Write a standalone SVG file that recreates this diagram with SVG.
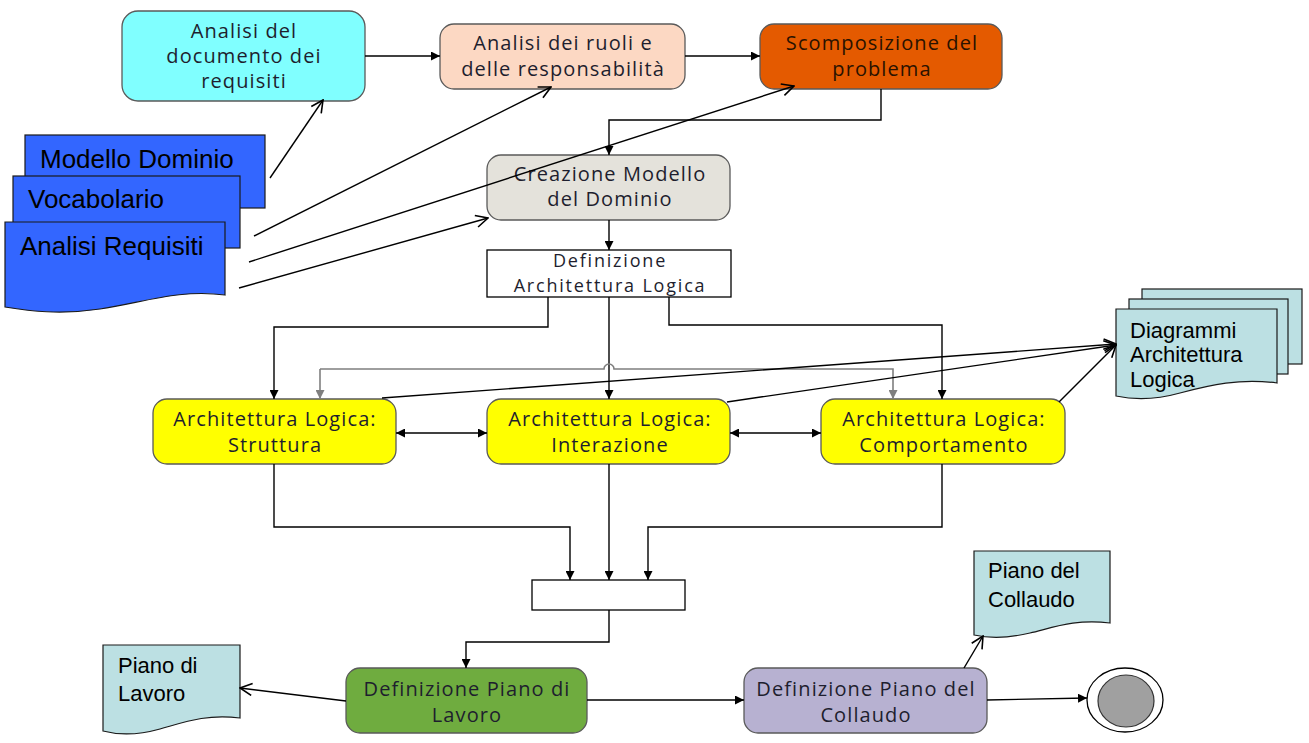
<svg xmlns="http://www.w3.org/2000/svg" width="1309" height="743" viewBox="0 0 1309 743">
<defs>
<style>
.node{stroke:#5a5a5a;stroke-width:1.3}
.nt{font-family:"Open Sans","Noto Sans",sans-serif;font-size:20px;letter-spacing:1.1px;fill:#1e1e2e;text-anchor:middle}
.ns{font-size:18px;letter-spacing:1.8px}
.dt{font-family:"Liberation Sans",Arial,sans-serif;fill:#000}
.doc{fill:#3366ff;stroke:#1a1a1a;stroke-width:1.2}
.doc2{fill:#bce0e3;stroke:#1a1a1a;stroke-width:1.2}
.c{fill:none;stroke:#000;stroke-width:1.4}
.g{fill:none;stroke:#7f7f7f;stroke-width:1.6}
</style>
<marker id="af" viewBox="0 0 10 10" refX="10" refY="5" markerWidth="9" markerHeight="9" markerUnits="userSpaceOnUse" orient="auto-start-reverse"><path d="M0,0 L10,5 L0,10 Z" fill="#000"/></marker>
<marker id="ag" viewBox="0 0 10 10" refX="10" refY="5" markerWidth="9" markerHeight="9" markerUnits="userSpaceOnUse" orient="auto"><path d="M0,0 L10,5 L0,10 Z" fill="#7f7f7f"/></marker>
<marker id="ao" viewBox="0 0 14 14" refX="13" refY="7" markerWidth="14" markerHeight="14" markerUnits="userSpaceOnUse" orient="auto"><path d="M1,1 L13,7 L1,13" fill="none" stroke="#000" stroke-width="1.6"/></marker>
</defs>
<rect width="1309" height="743" fill="#fff"/>

<g id="n-analisi-doc">
<rect class="node" x="122" y="11" width="243" height="90" rx="16" fill="#80ffff"/>
<text class="nt" x="244" y="38">Analisi del</text>
<text class="nt" x="244" y="63">documento dei</text>
<text class="nt" x="244" y="88">requisiti</text>
</g>
<g id="n-analisi-ruoli">
<rect class="node" x="440" y="24" width="245" height="65" rx="14" fill="#fcd8c3"/>
<text class="nt" x="563" y="50">Analisi dei ruoli e</text>
<text class="nt" x="563" y="76">delle responsabilità</text>
</g>
<g id="n-scomposizione">
<rect class="node" x="760" y="24" width="242" height="65" rx="14" fill="#e45a00"/>
<text class="nt" x="882" y="50" style="fill:#2a1200">Scomposizione del</text>
<text class="nt" x="882" y="76" style="fill:#2a1200">problema</text>
</g>
<g id="n-creazione">
<rect class="node" x="487" y="155" width="243" height="65" rx="14" fill="#e4e2db"/>
<text class="nt" x="610" y="181">Creazione Modello</text>
<text class="nt" x="610" y="206">del Dominio</text>
</g>
<g id="n-definizione-arch">
<rect x="487" y="250" width="244" height="47" fill="#fff" stroke="#000" stroke-width="1.3"/>
<text class="nt ns" x="610" y="267">Definizione</text>
<text class="nt ns" x="610" y="292">Architettura Logica</text>
</g>
<g id="n-struttura">
<rect class="node" x="153" y="399" width="243" height="65" rx="14" fill="#ffff00"/>
<text class="nt" x="275" y="426">Architettura Logica:</text>
<text class="nt" x="275" y="452">Struttura</text>
</g>
<g id="n-interazione">
<rect class="node" x="487" y="399" width="243" height="65" rx="14" fill="#ffff00"/>
<text class="nt" x="610" y="426">Architettura Logica:</text>
<text class="nt" x="610" y="452">Interazione</text>
</g>
<g id="n-comportamento">
<rect class="node" x="821" y="399" width="244" height="65" rx="14" fill="#ffff00"/>
<text class="nt" x="944" y="426">Architettura Logica:</text>
<text class="nt" x="944" y="452">Comportamento</text>
</g>
<g id="n-join">
<rect x="532" y="580" width="153" height="30" fill="#fff" stroke="#000" stroke-width="1.3"/>
</g>
<g id="n-piano-lavoro">
<rect class="node" x="346" y="668" width="241" height="65" rx="14" fill="#6fac3f"/>
<text class="nt" x="467" y="696">Definizione Piano di</text>
<text class="nt" x="467" y="722">Lavoro</text>
</g>
<g id="n-piano-collaudo">
<rect class="node" x="744" y="668" width="243" height="65" rx="14" fill="#b7b1d1"/>
<text class="nt" x="866" y="696">Definizione Piano del</text>
<text class="nt" x="866" y="722">Collaudo</text>
</g>
<g id="n-end">
<ellipse cx="1125" cy="700" rx="38" ry="32" fill="#fff" stroke="#000" stroke-width="1.3"/>
<ellipse cx="1126" cy="701" rx="28" ry="26" fill="#a0a0a0" stroke="#333" stroke-width="1.2"/>
</g>

<g id="d-modello">
<rect class="doc" x="25" y="135" width="240" height="73"/>
<text class="dt" x="40" y="168" font-size="26">Modello Dominio</text>
</g>
<g id="d-vocabolario">
<rect class="doc" x="13" y="176" width="227" height="72"/>
<text class="dt" x="28" y="208" font-size="26">Vocabolario</text>
</g>
<g id="d-analisi-req">
<path class="doc" d="M5,222 H225 V295 C180,289 145,302 100,309 C60,315 30,311 5,307 Z"/>
<text class="dt" x="20" y="255" font-size="26">Analisi Requisiti</text>
</g>
<g id="d-diagrammi">
<rect class="doc2" x="1142" y="289" width="160" height="75"/>
<rect class="doc2" x="1129" y="299" width="159" height="75"/>
<path class="doc2" d="M1116,309 H1277 V383 C1240,378 1210,385 1180,393 C1155,400 1135,400 1116,396 Z"/>
<text class="dt" x="1130" y="338" font-size="22">Diagrammi</text>
<text class="dt" x="1130" y="362" font-size="22">Architettura</text>
<text class="dt" x="1130" y="387" font-size="22">Logica</text>
</g>
<g id="d-piano-lavoro">
<path class="doc2" d="M103,645 H240 V718 C205,714 185,722 160,729 C135,736 118,735 103,731 Z"/>
<text class="dt" x="118" y="673" font-size="22">Piano di</text>
<text class="dt" x="118" y="701" font-size="22">Lavoro</text>
</g>
<g id="d-piano-collaudo">
<path class="doc2" d="M974,551 H1110 V623 C1075,619 1055,627 1030,633 C1005,639 988,638 974,635 Z"/>
<text class="dt" x="988" y="578" font-size="22">Piano del</text>
<text class="dt" x="988" y="607" font-size="22">Collaudo</text>
</g>

<g id="connectors">
<path class="c" d="M365,56 H440" marker-end="url(#af)"/>
<path class="c" d="M685,56 H760" marker-end="url(#af)"/>
<path class="c" d="M881,89 V120 H609 V155" marker-end="url(#af)"/>
<path class="c" d="M609,220 V250" marker-end="url(#af)"/>
<path class="c" d="M548,297 V327 H274 V399" marker-end="url(#af)"/>
<path class="c" d="M609,297 V399" marker-end="url(#af)"/>
<path class="c" d="M669,297 V325 H942 V399" marker-end="url(#af)"/>
<path class="g" d="M320,369 V399" marker-end="url(#ag)"/>
<path class="g" d="M320,369 H604 A5,5 0 0 1 614,369 H893 V399" marker-end="url(#ag)"/>
<path class="c" d="M396,433 H487" marker-start="url(#af)" marker-end="url(#af)"/>
<path class="c" d="M730,433 H821" marker-start="url(#af)" marker-end="url(#af)"/>
<path class="c" d="M274,464 V527 H570 V580" marker-end="url(#af)"/>
<path class="c" d="M609,464 V580" marker-end="url(#af)"/>
<path class="c" d="M942,464 V527 H648 V580" marker-end="url(#af)"/>
<path class="c" d="M609,610 V642 H466 V668" marker-end="url(#af)"/>
<path class="c" d="M587,700 H744" marker-end="url(#af)"/>
<path class="c" d="M987,700 L1087,698" marker-end="url(#af)"/>
<path class="c" d="M270,178 L323,100" marker-end="url(#ao)"/>
<path class="c" d="M254,236 L551,87" marker-end="url(#ao)"/>
<path class="c" d="M249,262 L794,86" marker-end="url(#ao)"/>
<path class="c" d="M239,288 L488,218" marker-end="url(#ao)"/>
<path class="c" d="M382,398 L1116,344" marker-end="url(#ao)"/>
<path class="c" d="M727,402 L1116,345" marker-end="url(#ao)"/>
<path class="c" d="M1059,402 L1116,345" marker-end="url(#ao)"/>
<path class="c" d="M346,701 L240,688" marker-end="url(#ao)"/>
<path class="c" d="M964,668 L983,636" marker-end="url(#ao)"/>
</g>
</svg>
